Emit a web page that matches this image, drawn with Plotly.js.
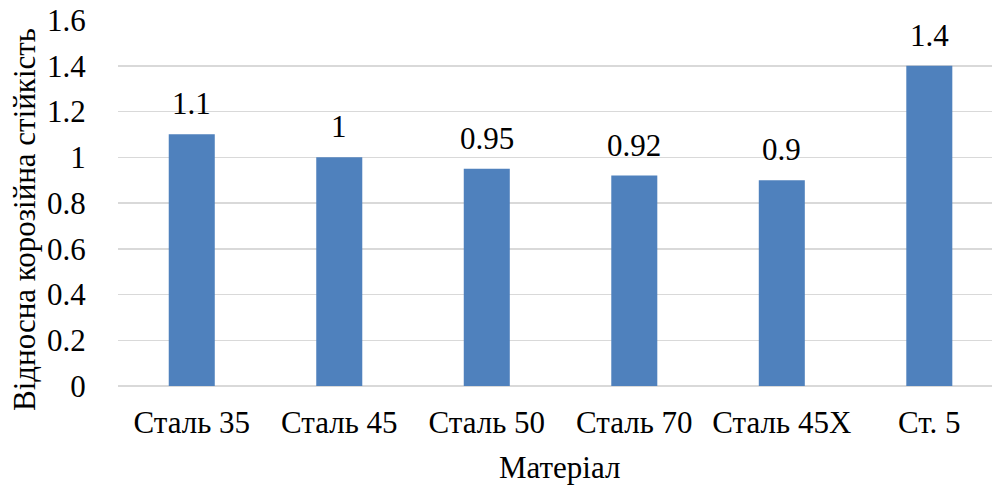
<!DOCTYPE html>
<html>
<head>
<meta charset="utf-8">
<script src="https://cdn.plot.ly/plotly-3.0.1.min.js"></script>
</head>
<body style="margin:0;background:#fff">
<div id="chart"></div>
<script>
var categories = ["Сталь 35", "Сталь 45", "Сталь 50", "Сталь 70", "Сталь 45Х", "Ст. 5"];
var values = [1.1, 1, 0.95, 0.92, 0.9, 1.4];
var valueLabels = ["1.1", "1", "0.95", "0.92", "0.9", "1.4"];
var yTitle = "Відносна корозійна стійкість";
var xTitle = "Матеріал";

var FONT = "Liberation Serif";
var FS = 31;

var trace = {
  type: "bar",
  x: categories,
  y: values,
  marker: {color: "#4F81BD"},
  hoverinfo: "none"
};

var annotations = categories.map(function (c, i) {
  return {
    x: c, y: values[i], xref: "x", yref: "y",
    text: valueLabels[i], showarrow: false,
    xanchor: "center", yanchor: "bottom", yshift: 11,
    font: {family: FONT, size: FS, color: "#000"}
  };
});
annotations.push({
  xref: "paper", yref: "paper", x: -0.1064, y: 0.4536,
  xanchor: "center", yanchor: "middle", textangle: -90,
  text: yTitle, showarrow: false,
  font: {family: FONT, size: FS, color: "#000"}
});
annotations.push({
  xref: "paper", yref: "paper", x: 0.5057, y: -0.224,
  xanchor: "center", yanchor: "middle",
  text: xTitle, showarrow: false,
  font: {family: FONT, size: FS, color: "#000"}
});

var layout = {
  width: 992, height: 486,
  margin: {l: 118, r: 0, t: 20, b: 100, pad: 0},
  paper_bgcolor: "#fff", plot_bgcolor: "#fff",
  bargap: 0.688,
  showlegend: false,
  xaxis: {
    type: "category",
    range: [-0.5, 5.425],
    showgrid: false, zeroline: false, showline: false,
    ticks: "outside", ticklen: 9, tickcolor: "rgba(0,0,0,0)",
    tickfont: {family: FONT, size: FS, color: "#000"}
  },
  yaxis: {
    range: [0, 1.6], dtick: 0.2, tick0: 0,
    showgrid: true, gridcolor: "#D9D9D9", gridwidth: 1.5,
    zeroline: true, zerolinecolor: "#D9D9D9", zerolinewidth: 1.5,
    showline: false,
    ticks: "outside", ticklen: 25, tickcolor: "rgba(0,0,0,0)",
    tickfont: {family: FONT, size: FS, color: "#000"}
  },
  annotations: annotations
};

Plotly.newPlot("chart", [trace], layout, {staticPlot: true});
</script>
</body>
</html>
